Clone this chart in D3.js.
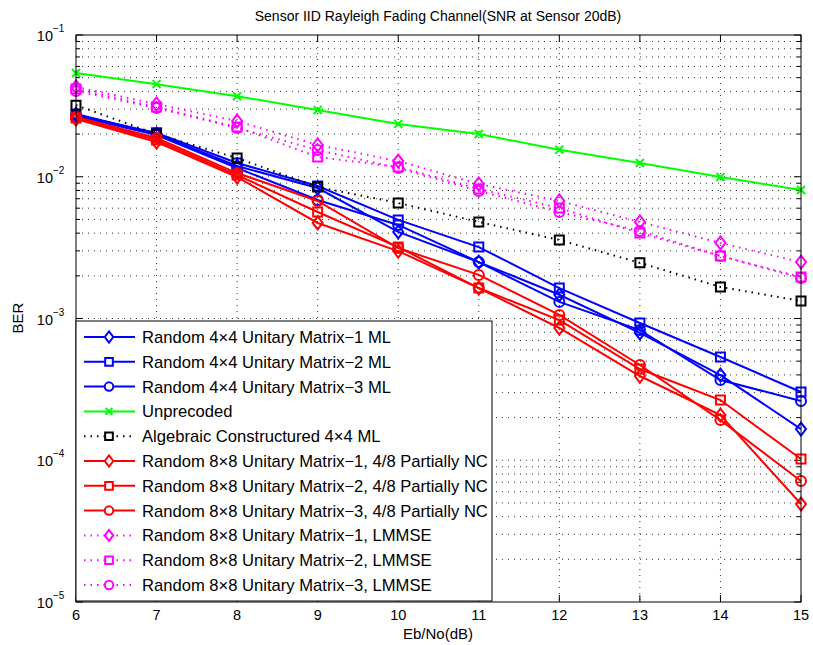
<!DOCTYPE html>
<html><head><meta charset="utf-8">
<script src="https://cdn.jsdelivr.net/npm/d3@7"></script>
<style>
body{margin:0;background:#fff;}
svg text{font-family:"Liberation Sans",Arial,Helvetica,sans-serif;fill:#000;}
</style></head>
<body><svg id="c" width="813" height="645"></svg>
<script>
// ---- data ----
const ebno = [6,7,8,9,10,11,12,13,14,15];
const ml4x4_1 = [0.0277,0.0200,0.0119,0.00833,0.00408,0.00250,0.00147,0.000791,0.000399,0.000166];
const ml4x4_2 = [0.0273,0.0204,0.0125,0.00861,0.00496,0.00319,0.00164,0.000930,0.000535,0.000303];
const ml4x4_3 = [0.0268,0.0197,0.01153,0.00686,0.00457,0.00250,0.00131,0.000829,0.000368,0.000262];
const unprecoded = [0.054,0.045,0.037,0.0296,0.0236,0.0200,0.0155,0.0125,0.00995,0.00807];
const algebraic4x4 = [0.032,0.0200,0.01355,0.00848,0.00653,0.0048,0.00358,0.00247,0.00167,0.00133];
const nc8x8_1 = [0.0255,0.01758,0.00996,0.00472,0.00299,0.00164,0.000857,0.000393,0.000208,0.0000491];
const nc8x8_2 = [0.0260,0.01816,0.01028,0.00564,0.00319,0.00164,0.000975,0.000440,0.000266,0.000102];
const nc8x8_3 = [0.0264,0.01877,0.01062,0.00675,0.00314,0.00203,0.00106,0.000470,0.000192,0.0000714];
const lmmse8x8_1 = [0.0430,0.0326,0.0247,0.01675,0.0129,0.00889,0.00675,0.0048,0.00341,0.0025];
const lmmse8x8_2 = [0.0416,0.0310,0.0224,0.01377,0.01172,0.0082,0.00602,0.00401,0.00276,0.00196];
const lmmse8x8_3 = [0.0403,0.0305,0.0221,0.01545,0.01153,0.00793,0.00564,0.00414,0.00276,0.00193];
const seriesNames = [
 "Random 4\u00d74 Unitary Matrix\u22121 ML",
 "Random 4\u00d74 Unitary Matrix\u22122 ML",
 "Random 4\u00d74 Unitary Matrix\u22123 ML",
 "Unprecoded",
 "Algebraic Constructured 4\u00d74 ML",
 "Random 8\u00d78 Unitary Matrix\u22121, 4/8 Partially NC",
 "Random 8\u00d78 Unitary Matrix\u22122, 4/8 Partially NC",
 "Random 8\u00d78 Unitary Matrix\u22123, 4/8 Partially NC",
 "Random 8\u00d78 Unitary Matrix\u22121, LMMSE",
 "Random 8\u00d78 Unitary Matrix\u22122, LMMSE",
 "Random 8\u00d78 Unitary Matrix\u22123, LMMSE"
];
const xTicks = [6,7,8,9,10,11,12,13,14,15];
const yTickExps = [-1,-2,-3,-4,-5];
const titleText = "Sensor IID Rayleigh Fading Channel(SNR at Sensor 20dB)";
const xLabel = "Eb/No(dB)";
const yLabel = "BER";

// ---- styles ----
const styles = [
 {c:"#0000ff",m:"diamond",dash:null},
 {c:"#0000ff",m:"square",dash:null},
 {c:"#0000ff",m:"circle",dash:null},
 {c:"#00ff00",m:"x",dash:null},
 {c:"#000000",m:"square",dash:"1.5,5"},
 {c:"#ff0000",m:"diamond",dash:null},
 {c:"#ff0000",m:"square",dash:null},
 {c:"#ff0000",m:"circle",dash:null},
 {c:"#ff00ff",m:"diamond",dash:"1.5,5"},
 {c:"#ff00ff",m:"square",dash:"1.5,5"},
 {c:"#ff00ff",m:"circle",dash:"1.5,5"}
];
const allValues = [ml4x4_1,ml4x4_2,ml4x4_3,unprecoded,algebraic4x4,nc8x8_1,nc8x8_2,nc8x8_3,lmmse8x8_1,lmmse8x8_2,lmmse8x8_3];
const series = allValues.map((v,i)=>({name:seriesNames[i],values:v,...styles[i]}));

const L=76,R=801,T=35,B=602;
const svg=d3.select("#c");
const x=d3.scaleLinear().domain([6,15]).range([L,R]);
const y=d3.scaleLog().domain([1e-5,1e-1]).range([B,T]);

// grid
const g=svg.append("g");
const minorVals=[];
for(let e=-5;e<-1;e++){for(let k=1;k<=9;k++){minorVals.push(k*Math.pow(10,e));}}
minorVals.push(0.1);
minorVals.forEach(v=>{
  if(v<=1e-5*1.0001||v>=0.1*0.9999) return;
  g.append("line").attr("x1",L).attr("x2",R).attr("y1",y(v)).attr("y2",y(v))
   .attr("stroke","#333").attr("stroke-width",1).attr("stroke-dasharray","1,5");
});
xTicks.forEach(t=>{
  if(t===6||t===15) return;
  g.append("line").attr("x1",x(t)).attr("x2",x(t)).attr("y1",T).attr("y2",B)
   .attr("stroke","#333").attr("stroke-width",1).attr("stroke-dasharray","1,5");
});

// ticks on all sides
minorVals.forEach(v=>{
  const major=Math.abs(Math.log10(v)-Math.round(Math.log10(v)))<1e-6;
  const len=major?7:4;
  const yy=y(v);
  g.append("line").attr("x1",L).attr("x2",L+len).attr("y1",yy).attr("y2",yy).attr("stroke","#000");
  g.append("line").attr("x1",R).attr("x2",R-len).attr("y1",yy).attr("y2",yy).attr("stroke","#000");
});
xTicks.forEach(t=>{
  g.append("line").attr("x1",x(t)).attr("x2",x(t)).attr("y1",B).attr("y2",B-7).attr("stroke","#000");
  g.append("line").attr("x1",x(t)).attr("x2",x(t)).attr("y1",T).attr("y2",T+7).attr("stroke","#000");
});

// markers
function markerPath(m,cx,cy,s){
  s=s||1;
  switch(m){
    case "diamond": return `M${cx},${cy-6.5*s}L${cx+5*s},${cy}L${cx},${cy+6.5*s}L${cx-5*s},${cy}Z`;
    case "square": return `M${cx-4.5*s},${cy-4.5*s}h${9*s}v${9*s}h${-9*s}Z`;
    case "circle": return `M${cx-5*s},${cy}a${5*s},${5*s} 0 1,0 ${10*s},0a${5*s},${5*s} 0 1,0 ${-10*s},0Z`;
    case "x": return `M${cx-4*s},${cy-4*s}L${cx+4*s},${cy+4*s}M${cx-4*s},${cy+4*s}L${cx+4*s},${cy-4*s}`;
  }
}

const line=d3.line().x(d=>x(d[0])).y(d=>y(d[1]));
const plot=svg.append("g");
series.forEach(s=>{
  const pts=ebno.map((e,i)=>[e,s.values[i]]);
  plot.append("path").datum(pts).attr("d",line).attr("fill","none")
    .attr("stroke",s.c).attr("stroke-width",2)
    .attr("stroke-dasharray",s.dash);
  pts.forEach(p=>{
    plot.append("path").attr("d",markerPath(s.m,x(p[0]),y(p[1])))
      .attr("fill","none").attr("stroke",s.c).attr("stroke-width",2);
  });
});

// frame
svg.append("rect").attr("x",L).attr("y",T).attr("width",R-L).attr("height",B-T)
  .attr("fill","none").attr("stroke","#000").attr("stroke-width",1);

// tick labels
xTicks.forEach(t=>{
  svg.append("text").attr("x",x(t)).attr("y",620).attr("text-anchor","middle")
    .attr("font-size",14.5).text(t);
});
yTickExps.forEach(e=>{
  svg.append("text").attr("x",53).attr("y",y(Math.pow(10,e))+6).attr("text-anchor","end")
    .attr("font-size",14.5).text("10");
  svg.append("text").attr("x",53).attr("y",y(Math.pow(10,e))-3).attr("font-size",10)
    .text("\u2212"+(-e));
});

// labels
svg.append("text").attr("x",438).attr("y",21).attr("text-anchor","middle").attr("font-size",14).text(titleText);
svg.append("text").attr("x",438).attr("y",639).attr("text-anchor","middle").attr("font-size",15).text(xLabel);
svg.append("text").attr("transform","translate(23,318) rotate(-90)").attr("text-anchor","middle").attr("font-size",15).text(yLabel);

// legend
const lg=svg.append("g");
const lx=76,ly=321,lw=416,lh=280,rowH=24.8;
lg.append("rect").attr("x",lx).attr("y",ly).attr("width",lw).attr("height",lh)
  .attr("fill","#fff").attr("stroke","#000").attr("stroke-width",1);
series.forEach((s,i)=>{
  const yy=ly+16+i*rowH;
  lg.append("line").attr("x1",84).attr("x2",135).attr("y1",yy).attr("y2",yy)
    .attr("stroke",s.c).attr("stroke-width",2).attr("stroke-dasharray",s.dash);
  lg.append("path").attr("d",markerPath(s.m,109,yy,0.85)).attr("fill","#fff")
    .attr("stroke",s.c).attr("stroke-width",2);
  lg.append("text").attr("x",142).attr("y",yy+6).attr("font-size",16.6).text(s.name);
});
</script></body></html>
